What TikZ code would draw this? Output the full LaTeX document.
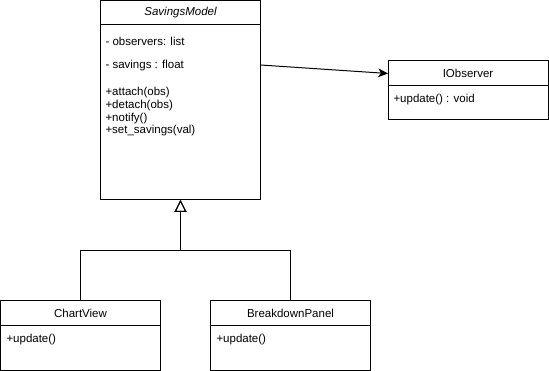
\documentclass[tikz,border=0pt]{standalone}
\usepackage{fontspec}
\setmainfont{Liberation Sans}
\usetikzlibrary{arrows.meta,positioning}

\begin{document}
\begin{tikzpicture}[x=1pt,y=-1pt,line width=1pt,
    font=\fontsize{11.5}{13}\selectfont,
    head/.style={draw,anchor=north west,minimum width=160pt,
      minimum height=#1,inner sep=0pt,outer sep=0pt},
    body/.style={draw,minimum width=160pt,minimum height=#1,
      inner sep=0pt,outer sep=0pt},
    member/.style={anchor=west,inner sep=0pt},
    assoc/.style={-{Stealth[length=10pt,width=9pt,inset=3pt]}},
    inherit/.style={-{Triangle[open,length=12pt,width=12pt]}}]
    \useasboundingbox (0,0) rectangle (549,371);

    % subject
    \node[head=24.5pt]  (smh) at (100.5,0.5)       {\itshape SavingsModel};
    \node[body=175pt]   (smb) [below=0pt of smh]   {};
    \node[member] (f1) at (105,41)  {- observers: list};
    \node[member] (f2) at (105,66)  {- savings : float};
    \node[member] (m1) at (105,93)  {+attach(obs)};
    \node[member] (m2) at (105,106) {+detach(obs)};
    \node[member] (m3) at (105,119) {+notify()};
    \node[member] (m4) at (105,131) {+set\_savings(val)};

    % observer interface
    \node[head=25pt]    (obsh) at (388,61)         {IObserver};
    \node[body=34pt]    (obsb) [below=0pt of obsh] {};
    \node[member] (o1) at (393,100) {+update() : void};

    % concrete observers
    \node[head=25.5pt]  (cvh) at (0.5,300.5)       {ChartView};
    \node[body=44pt]    (cvb) [below=0pt of cvh]   {};
    \node[member] (c1) at (6,340)   {+update()};

    \node[head=25.5pt]  (bph) at (210.5,300.5)     {BreakdownPanel};
    \node[body=44pt]    (bpb) [below=0pt of bph]   {};
    \node[member] (b1) at (216,340) {+update()};

    \coordinate (smout) at (260.5,65);
    \coordinate (joint) at (180.5,250.5);

    \draw[assoc]   (smout) -- (obsh.west);
    \draw[inherit] (cvh.north) |- (joint) -- (smb.south);
    \draw[inherit] (bph.north) |- (joint) -- (smb.south);
\end{tikzpicture}
\end{document}
